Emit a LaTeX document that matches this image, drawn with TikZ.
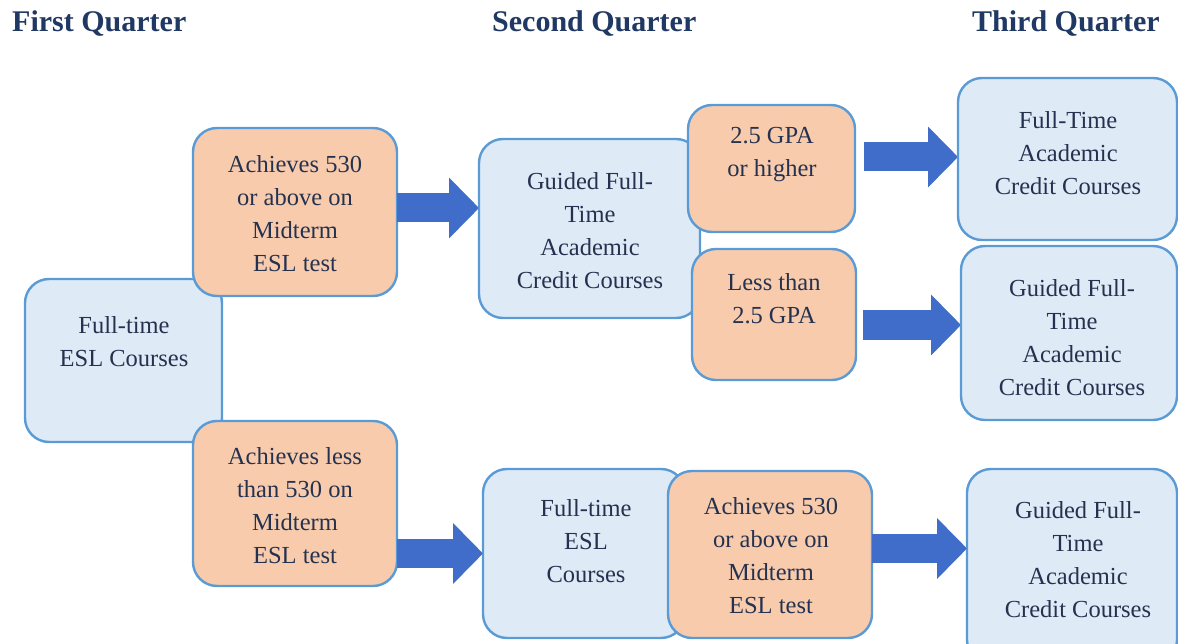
\documentclass[tikz,border=0pt]{standalone}
\usepackage{fontspec}
\setmainfont{Liberation Serif}
\usetikzlibrary{arrows.meta,calc}
\definecolor{boxblue}{HTML}{DEEAF6}
\definecolor{boxorange}{HTML}{F8CBAD}
\definecolor{edgeblue}{HTML}{5B9BD5}
\definecolor{arrowblue}{HTML}{3F6DC9}
\definecolor{headnavy}{HTML}{1F3864}
\definecolor{textnavy}{HTML}{25324F}
\begin{document}
\begin{tikzpicture}[x=1pt,y=-1pt,
  box/.style={draw=edgeblue,line width=2.4pt,rounded corners=24pt,anchor=north west,inner sep=0pt,outer sep=0pt},
  bluebox/.style={box,fill=boxblue},
  orangebox/.style={box,fill=boxorange},
  lbl/.style={text=textnavy,align=center,font=\fontsize{24.5}{33}\selectfont,inner sep=0pt},
  head/.style={text=headnavy,font=\fontsize{30}{36}\selectfont\bfseries,anchor=west,inner sep=0pt},
  bigarrow/.style={draw=arrowblue,line width=29pt,-{Triangle[length=30pt,width=59pt]}},
  arrowshadow/.style={draw=black!18,line width=29pt,-{Triangle[length=30pt,width=59pt]}},
]
\useasboundingbox (0,0) rectangle (1178,644);
\clip (0,0) rectangle (1178,644);

% headings
\node[head] (h1) at (12,24) {First Quarter};
\node[head] (h2) at (492,24) {Second Quarter};
\node[head] (h3) at (972,24) {Third Quarter};

% blue boxes
\node[bluebox,minimum width=197pt,minimum height=163pt] (b1) at (25,279) {};
\node[bluebox,minimum width=221pt,minimum height=179pt] (b4) at (479,139) {};
\node[bluebox,minimum width=219pt,minimum height=162pt] (b7) at (958,78) {};
\node[bluebox,minimum width=216pt,minimum height=174pt] (b8) at (961,246) {};
\node[bluebox,minimum width=202pt,minimum height=169pt] (b9) at (483,469) {};
\node[bluebox,minimum width=210pt,minimum height=195pt] (b11) at (967,469) {};

% orange boxes
\node[orangebox,minimum width=204pt,minimum height=168pt] (o2) at (193,128) {};
\node[orangebox,minimum width=204pt,minimum height=165pt] (o3) at (193,421) {};
\node[orangebox,minimum width=167pt,minimum height=127pt] (o5) at (688,105) {};
\node[orangebox,minimum width=164pt,minimum height=131pt] (o6) at (692,249) {};
\node[orangebox,minimum width=204pt,minimum height=167pt] (o10) at (668,471) {};

% texts
\node[lbl] (t1) at (124,342) {Full-time\\ESL Courses};
\node[lbl] (t2) at (295,214) {Achieves 530\\or above on\\Midterm\\ESL test};
\node[lbl] (t3) at (295,506) {Achieves less\\than 530 on\\Midterm\\ESL test};
\node[lbl] (t4) at (590,231) {Guided Full-\\Time\\Academic\\Credit Courses};
\node[lbl] (t5) at (772,155) {2.5 GPA\\or higher};
\node[lbl] (t6) at (774,299) {Less than\\2.5 GPA};
\node[lbl] (t7) at (1068,153) {Full-Time\\Academic\\Credit Courses};
\node[lbl] (t8) at (1072,338) {Guided Full-\\Time\\Academic\\Credit Courses};
\node[lbl] (t9) at (586,541) {Full-time\\ESL\\Courses};
\node[lbl] (t10) at (771,556) {Achieves 530\\or above on\\Midterm\\ESL test};
\node[lbl] (t11) at (1078,560) {Guided Full-\\Time\\Academic\\Credit Courses};

% arrow anchors
\coordinate (a1) at ($(o2.east)+(0,-4)$);
\coordinate (a2) at ($(o5.east)+(9,-11.5)$);
\coordinate (a3) at ($(o6.east)+(7,10.5)$);
\coordinate (a4) at (o3.east |- b9.west);
\coordinate (a5) at ($(o10.east)+(0,-6)$);

% shadows
\begin{scope}[shift={(2,4)}]
\draw[arrowshadow] (a1) -- (b4.west |- a1);
\draw[arrowshadow] (a2) -- (b7.west |- a2);
\draw[arrowshadow] (a3) -- (b8.west |- a3);
\draw[arrowshadow] (a4) -- (b9.west);
\draw[arrowshadow] (a5) -- (b11.west |- a5);
\end{scope}

% arrows
\draw[bigarrow] (a1) -- (b4.west |- a1);
\draw[bigarrow] (a2) -- (b7.west |- a2);
\draw[bigarrow] (a3) -- (b8.west |- a3);
\draw[bigarrow] (a4) -- (b9.west);
\draw[bigarrow] (a5) -- (b11.west |- a5);
\end{tikzpicture}
\end{document}
